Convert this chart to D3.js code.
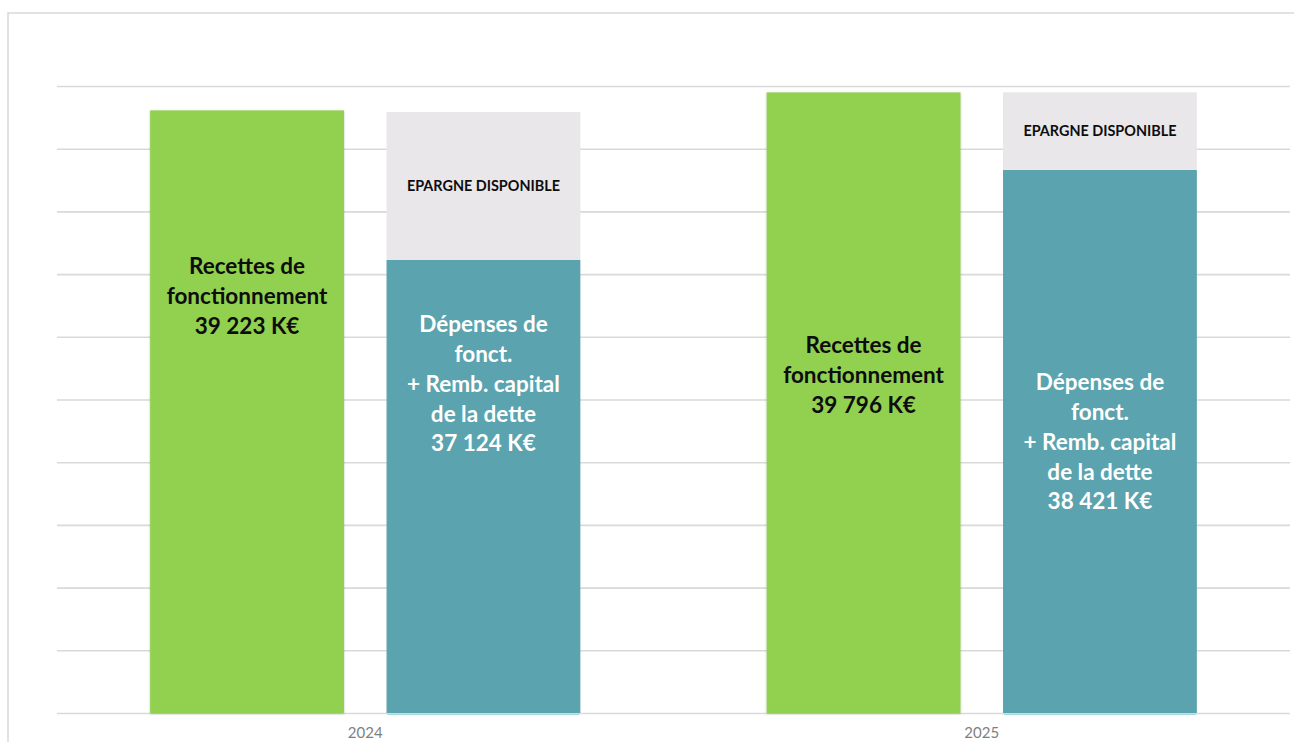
<!DOCTYPE html>
<html>
<head>
<meta charset="utf-8">
<script src="https://cdn.jsdelivr.net/npm/d3@7"></script>
<style>
  html, body { margin: 0; padding: 0; background: #ffffff; overflow: hidden; }
  svg { display: block; }
</style>
</head>
<body>
<svg id="chart" width="1294" height="742"></svg>
<script>
// Categories (years) and series (K€, axis runs 20 000 to 40 000).
const years = ["2024", "2025"];
const recettes = [39223, 39796];
// Bar height of the "dépenses" part as drawn (the picture is not to scale for it)
const depensesDrawn = [34450, 37320];
// Top of the stacked bar ("épargne disponible" on top of the dépenses)
const totalDrawn = [39170, 39800];
const yTicks = [20000, 22000, 24000, 26000, 28000, 30000, 32000, 34000, 36000, 38000, 40000];

// Texts written inside the bars
const recettesLabel = [
    ["Recettes de", "fonctionnement", "39 223 K€"],
    ["Recettes de", "fonctionnement", "39 796 K€"]
];
const depensesLabel = [
    ["Dépenses de", "fonct.", "+ Remb. capital", "de la dette", "37 124 K€"],
    ["Dépenses de", "fonct.", "+ Remb. capital", "de la dette", "38 421 K€"]
];
const epargneLabel = "EPARGNE DISPONIBLE";

// Layout
const W = 1294, H = 742;
const plotLeft = 57, plotRight = 1290;
const plotTop = 86, plotBottom = 713;
const lineHeight = 29.7;
// vertical middle of the text blocks (px), they were placed by hand in the original
const recettesTextMid = [296, 375];
const depensesTextMid = [384, 442];

const svg = d3.select("#chart");

// outer frame
svg.append("rect")
    .attr("x", 8).attr("y", 13)
    .attr("width", W + 10).attr("height", H + 10)
    .attr("fill", "none")
    .attr("stroke", "#d9d9d9")
    .attr("stroke-width", 1.5);

const x0 = d3.scaleBand()
    .domain(years)
    .range([plotLeft, plotRight]);

const x1 = d3.scaleBand()
    .domain(["rec", "dep"])
    .range([0, x0.bandwidth()])
    .paddingInner(0.18)
    .paddingOuter(0.394);

const y = d3.scaleLinear()
    .domain([20000, 40000])
    .range([plotBottom, plotTop]);

// gridlines
const yAxis = d3.axisLeft(y)
    .tickValues(yTicks)
    .tickSize(-(plotRight - plotLeft))
    .tickFormat("");

const gY = svg.append("g")
    .attr("transform", `translate(${plotLeft},0)`)
    .call(yAxis);
gY.select(".domain").remove();
gY.selectAll(".tick line")
    .attr("stroke", "#d9d9d9")
    .attr("stroke-width", 1.6);

// soft shadow like the office chart
const defs = svg.append("defs");
const shadow = defs.append("filter")
    .attr("id", "shadow")
    .attr("x", "-5%").attr("y", "-5%")
    .attr("width", "110%").attr("height", "110%");
shadow.append("feDropShadow")
    .attr("dx", 0).attr("dy", 0.8)
    .attr("stdDeviation", 1.2)
    .attr("flood-color", "#000")
    .attr("flood-opacity", 0.25);

const groups = svg.selectAll(".year")
    .data(years)
    .join("g")
    .attr("class", "year")
    .attr("transform", d => `translate(${x0(d)},0)`);

// recettes bars
groups.append("rect")
    .attr("x", x1("rec"))
    .attr("y", (d, i) => y(recettes[i]))
    .attr("width", x1.bandwidth())
    .attr("height", (d, i) => y(20000) - y(recettes[i]))
    .attr("fill", "#92d050")
    .attr("filter", "url(#shadow)");

// épargne disponible (top segment of the stack)
groups.append("rect")
    .attr("x", x1("dep"))
    .attr("y", (d, i) => y(totalDrawn[i]))
    .attr("width", x1.bandwidth())
    .attr("height", (d, i) => y(depensesDrawn[i]) - y(totalDrawn[i]))
    .attr("fill", "#e9e7ea");

// dépenses bars
groups.append("rect")
    .attr("x", x1("dep"))
    .attr("y", (d, i) => y(depensesDrawn[i]))
    .attr("width", x1.bandwidth())
    .attr("height", (d, i) => y(20000) - y(depensesDrawn[i]))
    .attr("fill", "#5ba3ae");

// thin light line under the teal bars
groups.append("line")
    .attr("x1", x1("dep") + 1)
    .attr("x2", x1("dep") + x1.bandwidth() - 1)
    .attr("y1", y(20000) + 1.5)
    .attr("y2", y(20000) + 1.5)
    .attr("stroke", "#a9d6dc")
    .attr("stroke-width", 1);

const font = "Lato, 'Open Sans', sans-serif";

function blockText(g, lines, cx, mid, color) {
    const n = lines.length;
    g.append("text")
        .attr("text-anchor", "middle")
        .attr("font-family", font)
        .attr("font-weight", "bold")
        .attr("font-size", 22.5)
        .attr("fill", color)
        .selectAll("tspan")
        .data(lines)
        .join("tspan")
        .attr("x", cx)
        .attr("y", (d, k) => mid + (k - (n - 1) / 2) * lineHeight)
        .attr("dy", "0.35em")
        .text(d => d);
}

groups.each(function(d, i) {
    const g = d3.select(this);
    blockText(g, recettesLabel[i], x1("rec") + x1.bandwidth() / 2, recettesTextMid[i], "#0d0d0d");
    blockText(g, depensesLabel[i], x1("dep") + x1.bandwidth() / 2, depensesTextMid[i], "#ffffff");

    g.append("text")
        .attr("x", x1("dep") + x1.bandwidth() / 2)
        .attr("y", (y(totalDrawn[i]) + y(depensesDrawn[i])) / 2)
        .attr("dy", "0.35em")
        .attr("text-anchor", "middle")
        .attr("font-family", font)
        .attr("font-weight", "bold")
        .attr("font-size", 14.4)
        .attr("fill", "#0d0d0d")
        .text(epargneLabel);
});

// year labels on the x axis (sit at the very bottom edge, as in the original)
const xAxis = d3.axisBottom(x0).tickSize(0).tickPadding(0);
const gX = svg.append("g")
    .attr("transform", `translate(0,${plotBottom})`)
    .call(xAxis);
gX.select(".domain").remove();
gX.selectAll(".tick text")
    .attr("y", 25)
    .attr("dy", 0)
    .attr("font-family", font)
    .attr("font-size", 15)
    .attr("fill", "#7f7f7f");
</script>
</body>
</html>
